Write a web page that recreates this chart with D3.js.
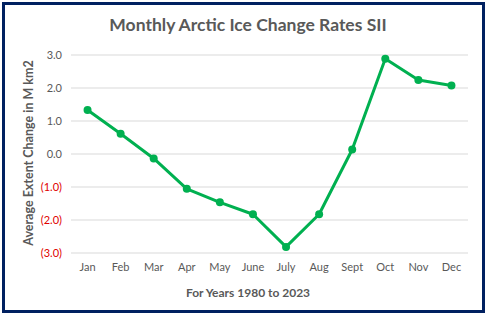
<!DOCTYPE html>
<html><head><meta charset="utf-8">
<script src="https://cdn.jsdelivr.net/npm/d3@7"></script>
<style>body{margin:0;background:#fff}svg{display:block}</style>
</head><body>
<script>
const months = ["Jan","Feb","Mar","Apr","May","June","July","Aug","Sept","Oct","Nov","Dec"];
const values = [1.32, 0.6, -0.15, -1.07, -1.48, -1.84, -2.83, -1.84, 0.12, 2.87, 2.23, 2.06];
const yTicks = [3, 2, 1, 0, -1, -2, -3];
const title = "Monthly Arctic Ice Change Rates SII";
const yTitle = "Average Extent Change in M km2";
const xTitle = "For Years 1980 to 2023";

const W = 493, H = 323;
const svg = d3.select("body").append("svg").attr("width", W).attr("height", H);
svg.append("rect").attr("x",3.5).attr("y",3.5).attr("width",480).attr("height",308)
  .attr("fill","#fff").attr("stroke","#002060").attr("stroke-width",3);

const x = d3.scaleBand().domain(months).range([71, 468]);
const y = d3.scaleLinear().domain([-3, 3]).range([252.5, 54.5]);
const font = "Lato, 'Open Sans', sans-serif";

svg.append("text").attr("x", 248).attr("y", 31).attr("text-anchor","middle")
  .attr("font-family", font).attr("font-weight","bold").attr("font-size", 17.5)
  .attr("fill","#595959").text(title);

const gy = svg.append("g").attr("transform","translate(71,0)")
  .call(d3.axisLeft(y).tickValues(yTicks).tickSize(-397).tickPadding(9)
    .tickFormat(d => d < 0 ? "(" + Math.abs(d).toFixed(1) + ")" : d.toFixed(1)));
gy.select(".domain").remove();
gy.selectAll("line").attr("stroke","#d9d9d9").attr("stroke-width",1);
gy.selectAll("text").attr("font-family", font).attr("font-size", 11)
  .attr("fill", d => d < 0 ? "#e00000" : "#595959");

const gx = svg.append("g").attr("transform","translate(0,252.5)")
  .call(d3.axisBottom(x).tickSize(0).tickPadding(11));
gx.select(".domain").remove();
gx.selectAll("text").attr("font-family", font).attr("font-size", 11).attr("fill","#595959");

svg.append("text").attr("transform","translate(33,153) rotate(-90)").attr("text-anchor","middle")
  .attr("font-family", font).attr("font-weight","bold").attr("font-size", 12.5).attr("fill","#595959")
  .text(yTitle);
svg.append("text").attr("x", 248).attr("y", 297).attr("text-anchor","middle")
  .attr("font-family", font).attr("font-weight","bold").attr("font-size", 12).attr("fill","#595959")
  .text(xTitle);

const line = d3.line().x((d,i) => x(months[i]) + x.bandwidth()/2).y(d => y(d));
svg.append("path").datum(values).attr("d", line).attr("fill","none")
  .attr("stroke","#00b050").attr("stroke-width",3).attr("stroke-linejoin","round");
svg.selectAll("circle.pt").data(values).enter().append("circle").attr("class","pt")
  .attr("cx",(d,i) => x(months[i]) + x.bandwidth()/2).attr("cy", d => y(d)).attr("r",4)
  .attr("fill","#00b050");
</script>
</body></html>
